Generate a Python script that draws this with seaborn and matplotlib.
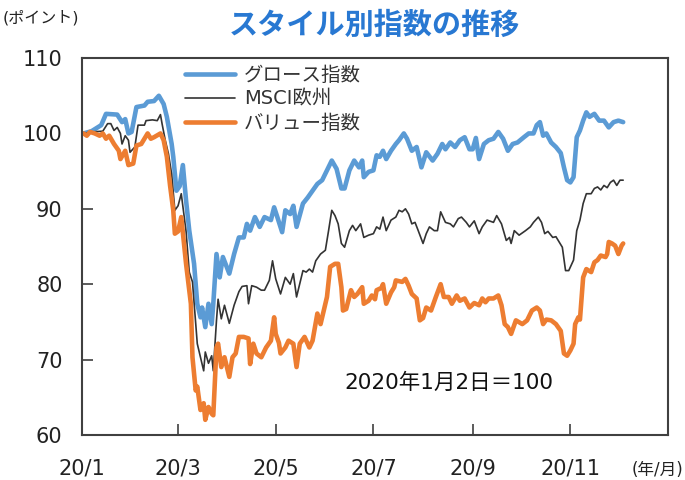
import pandas as pd
import matplotlib.pyplot as plt
import seaborn as sns

sns.set_theme(style="ticks")
plt.rcParams['font.family'] = ['DejaVu Sans', 'Noto Sans CJK JP']

# index levels (2020/1/2 = 100), days counted from 2020-01-01
growth_day = [1, 6, 12, 15, 22, 25, 27, 29, 31, 34, 39, 41, 45, 48, 51, 53, 56, 57, 59, 61,
              63, 65, 67, 70, 72, 74, 75, 77, 79, 81, 82, 84, 86, 88, 92, 95, 98, 101, 103, 105,
              108, 111, 114, 118, 120, 122, 125, 127, 130, 132, 134, 138, 141, 144, 147, 150, 153, 156, 159, 162,
              164, 167, 170, 173, 175, 176, 179, 182, 184, 186, 188, 190, 193, 196, 198, 201, 203, 206, 209, 212,
              215, 219, 222, 225, 227, 230, 233, 236, 239, 242, 244, 246, 248, 251, 254, 257, 260, 263, 266, 269,
              272, 276, 279, 282, 284, 286, 288, 290, 293, 296, 299, 301, 303, 305, 307, 309, 311, 313, 315, 317,
              320, 323, 326, 329, 332, 335, 338]
growth = [100.0, 100.3, 101.1, 102.6, 102.5, 101.5, 101.9, 100.0, 100.2, 103.5, 103.7, 104.2, 104.3, 105.0, 103.9, 102.2, 98.6, 96.9, 92.4, 93.0,
          95.8, 91.1, 87.1, 82.7, 77.4, 75.6, 76.9, 74.3, 77.4, 74.7, 77.4, 84.0, 80.9, 83.6, 81.4, 84.0, 86.2, 86.2, 88.0, 87.1,
          88.9, 87.6, 88.9, 88.5, 90.2, 88.9, 86.9, 89.8, 89.3, 90.4, 87.6, 90.7, 91.5, 92.4, 93.3, 93.8, 95.1, 96.4, 95.3, 92.7,
          92.7, 95.1, 96.4, 95.5, 96.4, 94.2, 94.9, 95.1, 97.1, 96.9, 97.7, 96.6, 97.7, 98.6, 99.1, 100.0, 99.3, 97.7, 98.2, 95.5,
          97.5, 96.4, 97.3, 98.6, 97.9, 98.8, 98.2, 99.1, 99.5, 97.9, 97.9, 99.4, 96.6, 98.6, 99.1, 99.3, 100.2, 99.3, 97.7, 98.6,
          98.8, 99.5, 100.0, 100.0, 101.1, 101.5, 99.7, 100.0, 98.8, 98.2, 97.4, 95.5, 93.8, 93.5, 94.2, 99.5, 100.4, 101.7, 102.8, 102.2,
          102.6, 101.7, 101.7, 100.8, 101.5, 101.7, 101.5]

msci_day = [1, 6, 13, 16, 18, 20, 22, 24, 25, 27, 29, 30, 33, 35, 39, 40, 44, 47, 49, 50,
            52, 54, 56, 58, 60, 62, 65, 67, 69, 72, 74, 76, 77, 79, 81, 82, 84, 85, 87, 89,
            92, 95, 98, 100, 103, 104, 106, 109, 112, 114, 117, 119, 121, 124, 127, 130, 132, 134, 138, 140,
            142, 144, 146, 149, 152, 154, 156, 158, 160, 162, 164, 167, 169, 171, 174, 176, 179, 182, 184, 186,
            188, 190, 193, 196, 198, 200, 202, 204, 206, 208, 210, 213, 215, 217, 220, 222, 224, 227, 230, 232,
            235, 237, 240, 242, 245, 248, 250, 253, 257, 259, 262, 265, 267, 268, 270, 273, 277, 280, 282, 285,
            287, 289, 291, 294, 296, 298, 300, 302, 304, 307, 309, 311, 313, 315, 318, 320, 322, 324, 326, 328,
            330, 332, 334, 336, 338]
msci = [100.0, 100.2, 100.3, 101.3, 101.3, 100.4, 100.8, 100.0, 98.6, 99.7, 99.1, 97.5, 98.2, 101.1, 101.1, 101.7, 101.8, 101.7, 102.5, 101.3,
        99.1, 97.3, 94.6, 89.8, 90.4, 92.0, 87.0, 81.6, 80.3, 72.1, 70.3, 68.5, 71.0, 69.5, 70.5, 68.5, 75.2, 78.0, 75.4, 77.2,
        74.8, 77.2, 79.0, 79.7, 79.8, 77.4, 79.8, 79.6, 79.2, 79.2, 80.5, 83.1, 80.7, 78.7, 80.9, 80.0, 81.4, 78.3, 81.8, 81.6,
        82.0, 81.6, 83.1, 84.0, 84.5, 87.1, 89.8, 89.1, 88.0, 85.4, 84.9, 87.1, 87.8, 87.1, 88.0, 86.2, 86.5, 86.7, 87.6, 87.3,
        88.9, 87.1, 88.5, 88.9, 89.8, 89.6, 90.0, 89.3, 88.0, 88.2, 87.1, 85.4, 86.7, 87.6, 87.1, 87.1, 89.6, 88.2, 88.0, 87.6,
        88.7, 88.9, 88.2, 87.6, 88.4, 86.7, 87.6, 88.5, 88.2, 89.1, 88.0, 85.8, 86.2, 85.4, 87.1, 86.5, 87.1, 87.6, 88.2, 88.9,
        88.2, 86.7, 87.0, 86.2, 86.3, 85.6, 84.9, 81.8, 81.8, 83.2, 87.1, 88.5, 90.7, 92.0, 92.0, 92.7, 92.9, 92.5, 93.1, 92.8,
        93.5, 93.8, 93.1, 93.8, 93.8]

value_day = [1, 3, 5, 8, 11, 13, 15, 17, 20, 23, 24, 27, 29, 32, 34, 37, 39, 41, 43, 45,
             49, 51, 53, 55, 57, 58, 60, 62, 65, 68, 69, 71, 72, 74, 76, 77, 79, 81, 82, 84,
             85, 87, 89, 92, 94, 96, 98, 101, 104, 105, 107, 109, 112, 115, 118, 120, 121, 123, 124, 127,
             129, 132, 134, 136, 139, 142, 144, 147, 149, 151, 153, 155, 158, 160, 162, 163, 165, 168, 170, 172,
             175, 176, 179, 181, 183, 184, 187, 188, 190, 193, 195, 196, 200, 202, 204, 206, 209, 211, 213, 215,
             218, 221, 224, 226, 229, 231, 234, 236, 239, 242, 245, 248, 250, 252, 254, 257, 260, 262, 264, 266,
             268, 271, 275, 278, 281, 284, 286, 288, 290, 293, 296, 299, 301, 303, 305, 307, 308, 310, 311, 313,
             315, 318, 320, 322, 324, 327, 328, 329, 331, 333, 335, 337, 338]
value = [100.0, 99.7, 100.2, 100.0, 99.7, 100.0, 99.3, 99.7, 98.6, 97.7, 96.6, 97.7, 95.8, 96.0, 98.4, 98.6, 99.3, 100.0, 99.3, 99.5,
         100.0, 99.1, 96.9, 93.1, 89.8, 86.7, 87.0, 88.9, 82.7, 77.4, 70.3, 65.9, 66.4, 63.3, 64.2, 62.0, 63.7, 62.8, 62.6, 71.6,
         72.1, 69.0, 70.3, 67.7, 70.3, 70.8, 73.0, 73.0, 72.8, 69.4, 72.1, 70.8, 70.3, 71.6, 72.5, 75.6, 73.4, 72.2, 70.8, 71.6,
         72.5, 72.1, 69.0, 72.1, 73.0, 71.6, 72.5, 76.1, 74.7, 76.5, 78.3, 82.3, 82.7, 82.7, 79.6, 76.5, 76.7, 79.2, 78.3, 78.7,
         79.6, 77.4, 77.8, 78.5, 78.0, 79.2, 79.5, 80.0, 77.4, 78.9, 79.6, 80.5, 80.3, 80.7, 79.8, 78.7, 78.1, 75.2, 75.5, 76.9,
         76.5, 78.3, 80.0, 78.3, 78.3, 77.4, 78.5, 77.8, 78.1, 76.9, 77.5, 77.2, 78.1, 77.6, 78.1, 78.1, 78.5, 77.2, 74.7, 74.3,
         73.4, 75.2, 74.7, 75.2, 76.5, 76.9, 76.5, 74.7, 75.3, 75.2, 74.7, 73.8, 70.8, 70.5, 71.2, 72.1, 74.7, 75.6, 75.3, 80.9,
         82.0, 81.6, 82.9, 83.2, 83.8, 83.6, 84.0, 85.6, 85.4, 85.1, 84.0, 85.1, 85.4]

series_names = ['グロース指数', 'MSCI欧州', 'バリュー指数']
series_colors = ['#5B9BD5', '#333333', '#ED7D31']
series_widths = [3.3, 1.2, 3.3]
tick_dates = ['2020-01-01', '2020-03-01', '2020-05-01', '2020-07-01', '2020-09-01', '2020-11-01']
tick_labels = ['20/1', '20/3', '20/5', '20/7', '20/9', '20/11']
y_ticks = [60, 70, 80, 90, 100, 110]

# long format for seaborn
start = pd.Timestamp('2020-01-01')
frames = []
for name, d, v in zip(series_names, [growth_day, msci_day, value_day], [growth, msci, value]):
    frames.append(pd.DataFrame({'date': start + pd.to_timedelta(d, unit='D'), 'level': v, 'series': name}))
df = pd.concat(frames, ignore_index=True)

fig = plt.figure(figsize=(6.85, 4.8), dpi=100)
ax = fig.add_axes([0.1197, 0.094, 0.8555, 0.785])

sns.lineplot(data=df, x='date', y='level', hue='series', size='series',
             hue_order=series_names, size_order=series_names,
             palette=dict(zip(series_names, series_colors)),
             sizes=dict(zip(series_names, series_widths)),
             estimator=None, ax=ax)

ax.set_xlim(pd.Timestamp('2020-01-01'), pd.Timestamp('2021-01-01'))
ax.set_ylim(60, 110)
ax.set_xticks(pd.to_datetime(tick_dates))
ax.set_xticklabels(tick_labels)
ax.set_yticks(y_ticks)
ax.set_xlabel('')
ax.set_ylabel('')
ax.tick_params(direction='in', length=8, width=1.2, color='#404040',
               labelcolor='#222222', labelsize=15, pad=14)
ax.tick_params(axis='x', pad=17)
for s in ax.spines.values():
    s.set_visible(True)
    s.set_color('#404040')
    s.set_linewidth(1.5)

sns.move_legend(ax, 'upper left', bbox_to_anchor=(0.162, 1.0), frameon=False, title=None,
                fontsize=14, handlelength=2.6, handletextpad=0.45, labelspacing=0.25,
                borderaxespad=0)
for t in ax.get_legend().get_texts():
    t.set_color('#333333')

ax.text(0.626, 0.138, '2020年1月2日＝100', transform=ax.transAxes, ha='center', va='center',
        fontsize=15.5, color='#111111')

fig.text(0.547, 0.948, 'スタイル別指数の推移', ha='center', va='center', fontsize=21,
         fontweight='bold', color='#2878D2', family=['Noto Sans CJK JP', 'DejaVu Sans'])
fig.text(0.004, 0.962, '(ポイント)', ha='left', va='center', fontsize=11.5, color='#222222')
fig.text(0.998, 0.02, '(年/月)', ha='right', va='center', fontsize=12, color='#222222')

fig.savefig('out.png', dpi=100)
